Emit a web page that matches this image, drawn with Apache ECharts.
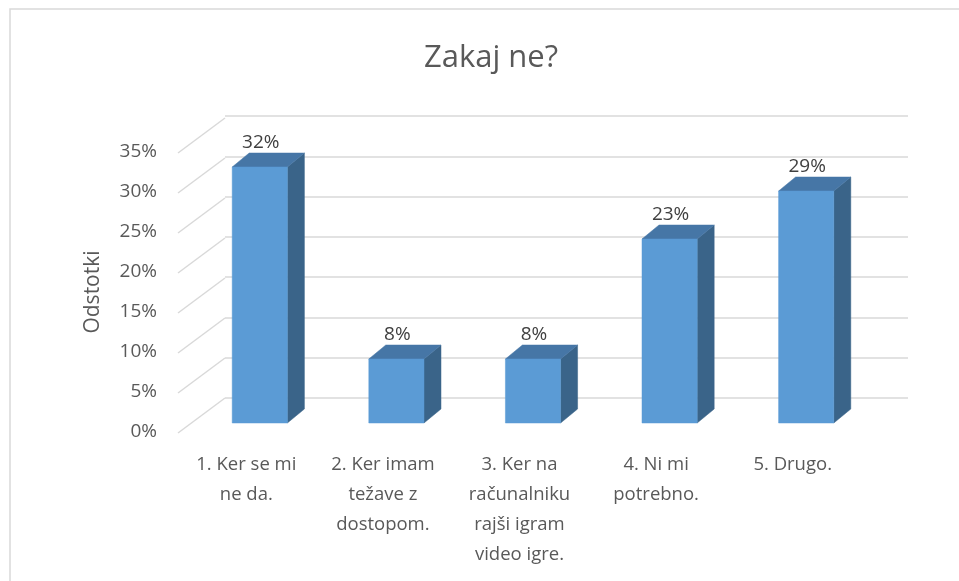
<!DOCTYPE html>
<html>
<head>
<meta charset="utf-8">
<style>html,body{margin:0;padding:0;background:#fff;}#c{width:959px;height:581px;}</style>
<script src="https://cdn.jsdelivr.net/npm/echarts@6/dist/echarts.min.js"></script>
</head>
<body>
<div id="c"></div>
<script>
const title = 'Zakaj ne?';
const yAxisName = 'Odstotki';
const categories = ['1. Ker se mi\nne da.', '2. Ker imam\ntežave z\ndostopom.', '3. Ker na\nračunalniku\nrajši igram\nvideo igre.', '4. Ni mi\npotrebno.', '5. Drugo.'];
const values = [0.32, 0.08, 0.08, 0.23, 0.29];
const yTicks = [0, 0.05, 0.10, 0.15, 0.20, 0.25, 0.30, 0.35];

const FONT = 'Open Sans';
const pct = v => Math.round(v * 100) + '%';

const chart = echarts.init(document.getElementById('c'), null, {renderer: 'canvas'});
chart.setOption({
  backgroundColor: '#ffffff',
  animation: false,
  title: {
    text: title, left: 419, top: 38,
    textStyle: {fontFamily: FONT, fontSize: 31, fontWeight: 'normal', color: '#595959'}
  },
  graphic: [{
    type: 'rect', shape: {x: 10, y: 9, width: 1200, height: 1200},
    style: {fill: 'none', stroke: '#d9d9d9', lineWidth: 1.5}, silent: true
  }],
  grid: [
    {left: 178, width: 683, top: 152, height: 280},
    {left: 225, width: 683, top: 116, height: 282}
  ],
  xAxis: [
    {type: 'category', gridIndex: 0, data: categories,
     axisLine: {show: false}, axisTick: {show: false}, splitLine: {show: false},
     axisLabel: {interval: 0, margin: 18, color: '#595959', fontFamily: FONT, fontSize: 18.5, lineHeight: 30}},
    {type: 'category', gridIndex: 1, data: categories, show: false}
  ],
  yAxis: [
    {type: 'value', gridIndex: 0, min: 0, max: 0.35, interval: 0.05,
     name: yAxisName, nameLocation: 'middle', nameRotate: 90, nameGap: 74,
     nameTextStyle: {fontFamily: FONT, fontSize: 21, color: '#595959'},
     axisLine: {show: false}, axisTick: {show: false}, splitLine: {show: false},
     axisLabel: {margin: 21, formatter: pct, color: '#595959', fontFamily: FONT, fontSize: 19}},
    {type: 'value', gridIndex: 1, min: 0, max: 0.35, interval: 0.05,
     axisLine: {show: false}, axisTick: {show: false}, axisLabel: {show: false},
     splitLine: {show: true, lineStyle: {color: '#d9d9d9', width: 1.5}}}
  ],
  series: [
    {
      type: 'custom', xAxisIndex: 0, yAxisIndex: 0, silent: true,
      data: yTicks.map(t => [0, t]),
      encode: {x: 0, y: 1},
      renderItem: function (params, api) {
        const y = api.coord([0, api.value(1)])[1];
        const x = params.coordSys.x;
        return {type: 'line', shape: {x1: x, y1: y + 1, x2: x + 47, y2: y - 34},
                style: {stroke: '#d9d9d9', lineWidth: 1.5}};
      }
    },
    {
      type: 'custom', xAxisIndex: 0, yAxisIndex: 0, silent: true,
      data: values.map((v, i) => [i, v]),
      encode: {x: 0, y: 1},
      renderItem: function (params, api) {
        const i = api.value(0), v = api.value(1);
        const base = api.coord([i, 0]);
        const top = api.coord([i, v]);
        const band = api.size([1, 0])[0];
        const w = band * 0.404;
        const ox = 13.5, oy = -9;
        const dx = 17, dy = -14;
        const cx = base[0] + ox;
        const x0 = cx - w / 2, x1 = cx + w / 2;
        const yb = base[1] + oy, yt = top[1] + oy;
        return {
          type: 'group',
          children: [
            {type: 'polygon', shape: {points: [[x1, yt], [x1 + dx, yt + dy], [x1 + dx, yb + dy], [x1, yb]]},
             style: {fill: '#3a6489', stroke: '#3a6489', lineWidth: 0.5}},
            {type: 'polygon', shape: {points: [[x0, yt], [x0 + dx, yt + dy], [x1 + dx, yt + dy], [x1, yt]]},
             style: {fill: '#4676a6', stroke: '#4676a6', lineWidth: 0.5}},
            {type: 'rect', shape: {x: x0, y: yt, width: w, height: yb - yt},
             style: {fill: '#5b9bd5', stroke: '#5b9bd5', lineWidth: 0.5}},
            {type: 'text', style: {x: cx + 1, y: yt + dy - 1, text: pct(v), align: 'center', verticalAlign: 'bottom',
             fill: '#404040', font: '19px "' + FONT + '"'}}
          ]
        };
      }
    }
  ]
});
</script>
</body>
</html>
